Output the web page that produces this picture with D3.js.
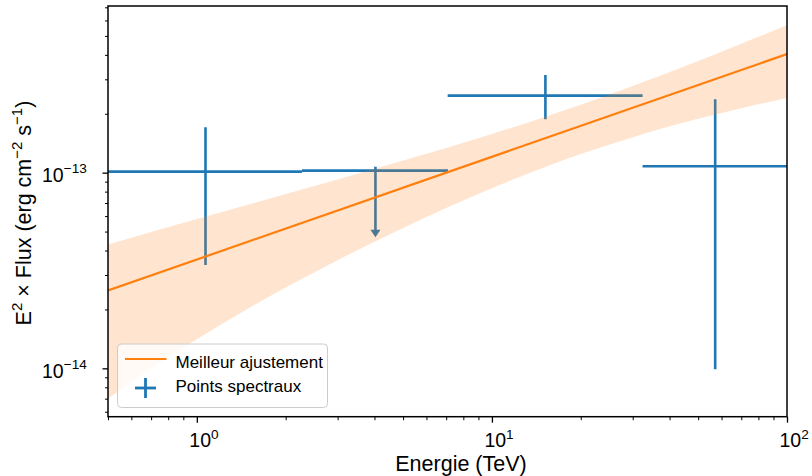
<!DOCTYPE html>
<html>
<head>
<meta charset="utf-8">
<script src="https://cdn.jsdelivr.net/npm/d3@7"></script>
<style>
  html, body { margin: 0; padding: 0; background: #ffffff; }
  svg { display: block; font-family: "Liberation Sans", Arial, sans-serif; }
</style>
</head>
<body>
<svg id="chart" width="812" height="476"></svg>
<script>
// ---------------- data ----------------
const pointEnergy   = [1.07, 4.03, 15.18, 57.1];
const pointELow     = [0.5, 2.27, 7.08, 32.4];
const pointEHigh    = [2.27, 7.10, 32.4, 100];
const pointFlux     = [1.012e-13, 1.024e-13, 2.476e-13, 1.078e-13];
const pointFluxLow  = [3.37e-14, 4.68e-14, 1.875e-13, 9.89e-15];
const pointFluxHigh = [1.706e-13, 1.073e-13, 3.16e-13, 2.37e-13];
const pointIsUL     = [false, true, false, false];

const fitEnergy = [0.5, 100];
const fitFlux   = [2.50e-14, 4.04e-13];

const bandEnergy = [0.5, 0.7, 1, 1.5, 2, 3, 5, 7, 10, 15, 20, 30, 50, 70, 100];
const bandHigh   = [4.30e-14, 4.97e-14, 5.79e-14, 6.87e-14, 7.77e-14, 9.23e-14, 1.153e-13, 1.338e-13,
                    1.577e-13, 1.920e-13, 2.224e-13, 2.772e-13, 3.724e-13, 4.558e-13, 5.675e-13];
const bandLow    = [0.70e-14, 1.00e-14, 1.41e-14, 2.03e-14, 2.59e-14, 3.57e-14, 5.22e-14, 6.60e-14,
                    8.33e-14, 1.062e-13, 1.244e-13, 1.518e-13, 1.886e-13, 2.136e-13, 2.405e-13];

const xMajorTicks = [1, 10, 100];
const xMajorExp   = ["0", "1", "2"];
const yMajorTicks = [1e-14, 1e-13];
const yMajorExp   = ["\u221214", "\u221213"];

const xLabel = "Energie (TeV)";
const legendFit = "Meilleur ajustement";
const legendPts = "Points spectraux";

// ---------------- layout ----------------
const L = 108, R = 787, T = 6, B = 416.7;
const blue = "#1f77b4", orange = "#ff7f0e";

const svg = d3.select("#chart");
const x = d3.scaleLog().domain([0.5, 100]).range([L, R]);
const y = d3.scaleLog().domain([5.66e-15, 7.11e-13]).range([B, T]);

svg.append("defs").append("clipPath").attr("id", "clip")
  .append("rect").attr("x", L).attr("y", T).attr("width", R - L).attr("height", B - T);

const plot = svg.append("g").attr("clip-path", "url(#clip)");

// error bars (spectral points)
const pts = pointEnergy.map((e, i) => ({
  e, lo: pointELow[i], hi: pointEHigh[i], f: pointFlux[i],
  flo: pointFluxLow[i], fhi: pointFluxHigh[i], ul: pointIsUL[i]
}));
const pg = plot.append("g");
pts.forEach(p => {
  pg.append("line")
    .attr("x1", x(p.lo)).attr("x2", x(p.hi))
    .attr("y1", y(p.f)).attr("y2", y(p.f))
    .attr("stroke", blue).attr("stroke-width", 2.6);
  if (!p.ul) {
    pg.append("line")
      .attr("x1", x(p.e)).attr("x2", x(p.e))
      .attr("y1", y(p.fhi)).attr("y2", y(p.flo))
      .attr("stroke", blue).attr("stroke-width", 2.6);
  } else {
    const tip = y(p.flo);
    pg.append("line")
      .attr("x1", x(p.e)).attr("x2", x(p.e))
      .attr("y1", y(p.fhi)).attr("y2", tip - 6)
      .attr("stroke", blue).attr("stroke-width", 2.6);
    pg.append("path")
      .attr("d", `M${x(p.e) - 5},${tip - 7.5} L${x(p.e) + 5},${tip - 7.5} L${x(p.e)},${tip} Z`)
      .attr("fill", blue);
  }
});

// confidence band
const band = bandEnergy.map((e, i) => ({ e, lo: bandLow[i], hi: bandHigh[i] }));
plot.append("path")
  .datum(band)
  .attr("d", d3.area().x(d => x(d.e)).y0(d => y(d.lo)).y1(d => y(d.hi)).curve(d3.curveMonotoneX))
  .attr("fill", orange).attr("fill-opacity", 0.2);

// best fit line
const fit = fitEnergy.map((e, i) => ({ e, f: fitFlux[i] }));
plot.append("path")
  .datum(fit)
  .attr("d", d3.line().x(d => x(d.e)).y(d => y(d.f)))
  .attr("fill", "none").attr("stroke", orange).attr("stroke-width", 2.2);

// ---------------- axes ----------------
function minorTicks(domain) {
  const out = [];
  const a = Math.floor(Math.log10(domain[0])), b = Math.ceil(Math.log10(domain[1]));
  for (let k = a; k <= b; k++) for (let m = 2; m <= 9; m++) {
    const v = m * Math.pow(10, k);
    if (v >= domain[0] && v <= domain[1]) out.push(v);
  }
  return out;
}

// x minor
svg.append("g").attr("transform", `translate(0,${B})`)
  .call(d3.axisBottom(x).tickValues(minorTicks(x.domain())).tickSize(3.5).tickSizeOuter(0).tickFormat(() => ""))
  .call(g => g.select(".domain").remove())
  .call(g => g.selectAll(".tick line").attr("stroke", "#000").attr("stroke-width", 1));

// x major
const xMaj = svg.append("g").attr("transform", `translate(0,${B})`)
  .call(d3.axisBottom(x).tickValues(xMajorTicks).tickSize(6).tickSizeOuter(0).tickFormat(() => ""))
  .call(g => g.select(".domain").remove())
  .call(g => g.selectAll(".tick line").attr("stroke", "#000").attr("stroke-width", 1.3));
xMaj.selectAll(".tick text").remove();
xMaj.selectAll(".tick").each(function(d, i) {
  const t = d3.select(this).append("text")
    .attr("x", -8).attr("y", 30.5)
    .attr("text-anchor", "start")
    .attr("fill", "#000").attr("font-size", 19.5)
    .attr("font-family", "'Liberation Sans', Arial, sans-serif");
  t.append("tspan").text("10");
  t.append("tspan").attr("dy", -8.5).attr("font-size", 13.6).text(xMajorExp[i]);
});

// y minor
svg.append("g").attr("transform", `translate(${L},0)`)
  .call(d3.axisLeft(y).tickValues(minorTicks(y.domain())).tickSize(3).tickSizeOuter(0).tickFormat(() => ""))
  .call(g => g.select(".domain").remove())
  .call(g => g.selectAll(".tick line").attr("stroke", "#000").attr("stroke-width", 1));

// y major
const yMaj = svg.append("g").attr("transform", `translate(${L},0)`)
  .call(d3.axisLeft(y).tickValues(yMajorTicks).tickSize(5.5).tickSizeOuter(0).tickFormat(() => ""))
  .call(g => g.select(".domain").remove())
  .call(g => g.selectAll(".tick line").attr("stroke", "#000").attr("stroke-width", 1.3));
yMaj.selectAll(".tick text").remove();
yMaj.selectAll(".tick").each(function(d, i) {
  const t = d3.select(this).append("text")
    .attr("x", -66).attr("y", 9)
    .attr("text-anchor", "start")
    .attr("fill", "#000").attr("font-size", 19.5)
    .attr("font-family", "'Liberation Sans', Arial, sans-serif");
  t.append("tspan").text("10");
  t.append("tspan").attr("dy", -8.7).attr("font-size", 13.6).text(yMajorExp[i]);
});

// frame
svg.append("rect").attr("x", L).attr("y", T).attr("width", R - L).attr("height", B - T)
  .attr("fill", "none").attr("stroke", "#000").attr("stroke-width", 1.5);

// axis labels
svg.append("text")
  .attr("x", 461).attr("y", 470.5)
  .attr("text-anchor", "middle").attr("font-size", 21.5).attr("fill", "#000")
  .text(xLabel);

const yl = svg.append("text")
  .attr("transform", "translate(30.5,213) rotate(-90)")
  .attr("text-anchor", "middle").attr("font-size", 21.5).attr("fill", "#000");
yl.append("tspan").text("E");
yl.append("tspan").attr("dy", -8.5).attr("font-size", 15).text("2");
yl.append("tspan").attr("dy", 8.5).text(" \u00d7 Flux (erg cm");
yl.append("tspan").attr("dy", -8.5).attr("font-size", 15).text("\u22122");
yl.append("tspan").attr("dy", 8.5).text(" s");
yl.append("tspan").attr("dy", -8.5).attr("font-size", 15).text("\u22121");
yl.append("tspan").attr("dy", 8.5).text(")");

// ---------------- legend ----------------
const lg = svg.append("g");
lg.append("rect")
  .attr("x", 117.5).attr("y", 344).attr("width", 210).attr("height", 63.5)
  .attr("rx", 4).attr("ry", 4)
  .attr("fill", "#fff").attr("fill-opacity", 0.8)
  .attr("stroke", "#cccccc").attr("stroke-width", 1);
lg.append("line").attr("x1", 125).attr("x2", 166.5).attr("y1", 359).attr("y2", 359)
  .attr("stroke", orange).attr("stroke-width", 2.2);
lg.append("text").attr("x", 175.5).attr("y", 367.5).attr("font-size", 17).attr("fill", "#000").text(legendFit);
lg.append("line").attr("x1", 135).attr("x2", 156).attr("y1", 388).attr("y2", 388)
  .attr("stroke", blue).attr("stroke-width", 2.8);
lg.append("line").attr("x1", 145.5).attr("x2", 145.5).attr("y1", 378).attr("y2", 398)
  .attr("stroke", blue).attr("stroke-width", 2.8);
lg.append("text").attr("x", 175.5).attr("y", 391.5).attr("font-size", 17).attr("fill", "#000").text(legendPts);
</script>
</body>
</html>
